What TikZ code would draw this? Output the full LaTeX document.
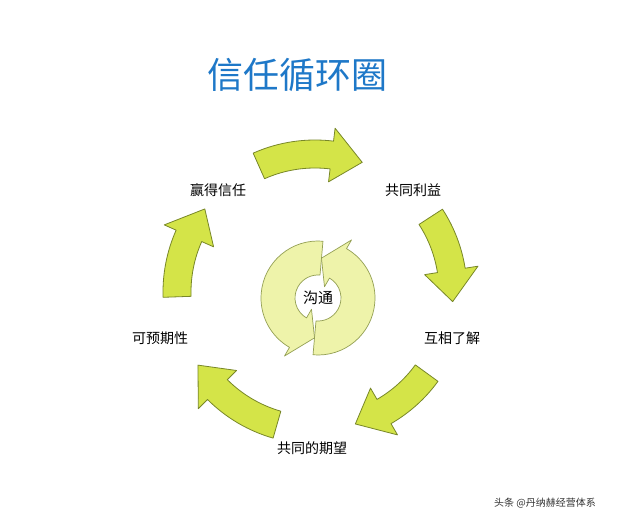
\documentclass[tikz,border=0pt]{standalone}
\usepackage{fontspec}
\setmainfont{Noto Sans CJK SC}
\definecolor{ag}{RGB}{212,228,72}
\definecolor{ao}{RGB}{120,135,40}
\definecolor{cg}{RGB}{238,243,170}
\definecolor{tb}{RGB}{30,120,200}
\newcommand{\carrow}[9]{%
 \pgfmathsetmacro{\hs}{#5+#8}%
 \begin{scope}[shift={(#1,#2)}]
 \draw[#9] (#4:#3+#6) arc[start angle=#4,end angle=\hs,radius=#3+#6] -- (\hs:#3+#7) -- (#5:#3) -- (\hs:#3-#7) -- (\hs:#3-#6) arc[start angle=\hs,end angle=#4,radius=#3-#6] -- cycle;
 \end{scope}}
\begin{document}
\begin{tikzpicture}[x=1pt,y=1pt,
  bigarr/.style={fill=ag,draw=ao,line width=0.8pt,line join=round},
  smallarr/.style={fill=cg,draw=ao!80,line width=0.7pt,line join=round},
  lab/.style={font=\fontsize{14}{16}\selectfont}]
\useasboundingbox (0,0) rectangle (640,528);
\fill[white] (0,0) rectangle (640,528);
\node[text=tb,font=\fontsize{36}{40}\selectfont] (title) at (297,453) {信任循环圈};
% big arrows
\carrow{315}{236}{138}{114}{70}{14}{27}{13}{bigarr}
\carrow{315}{236}{138}{33}{-4}{14}{27}{13}{bigarr}
\carrow{315}{236}{138}{-36}{-73}{14}{27}{13}{bigarr}
\carrow{315}{236}{138}{-106}{-148}{14}{27}{13}{bigarr}
\carrow{315}{236}{138}{182}{143}{14}{27}{13}{bigarr}
% labels
\node[lab] (a) at (218,338) {赢得信任};
\node[lab] (b) at (413,338) {共同利益};
\node[lab] (c) at (452,190) {互相了解};
\node[lab] (d) at (312,80) {共同的期望};
\node[lab] (e) at (160,190) {可预期性};
% center
\carrow{318}{230}{40}{-95}{85}{17}{27}{-25}{smallarr}
\carrow{318}{230}{40}{85}{265}{17}{27}{-25}{smallarr}
\node[font=\fontsize{15}{17}\selectfont] (g) at (318,230) {沟通};
\node[font=\fontsize{10}{12}\selectfont,text=black!80] (w) at (545,25) {头条 @丹纳赫经营体系};
\end{tikzpicture}
\end{document}
